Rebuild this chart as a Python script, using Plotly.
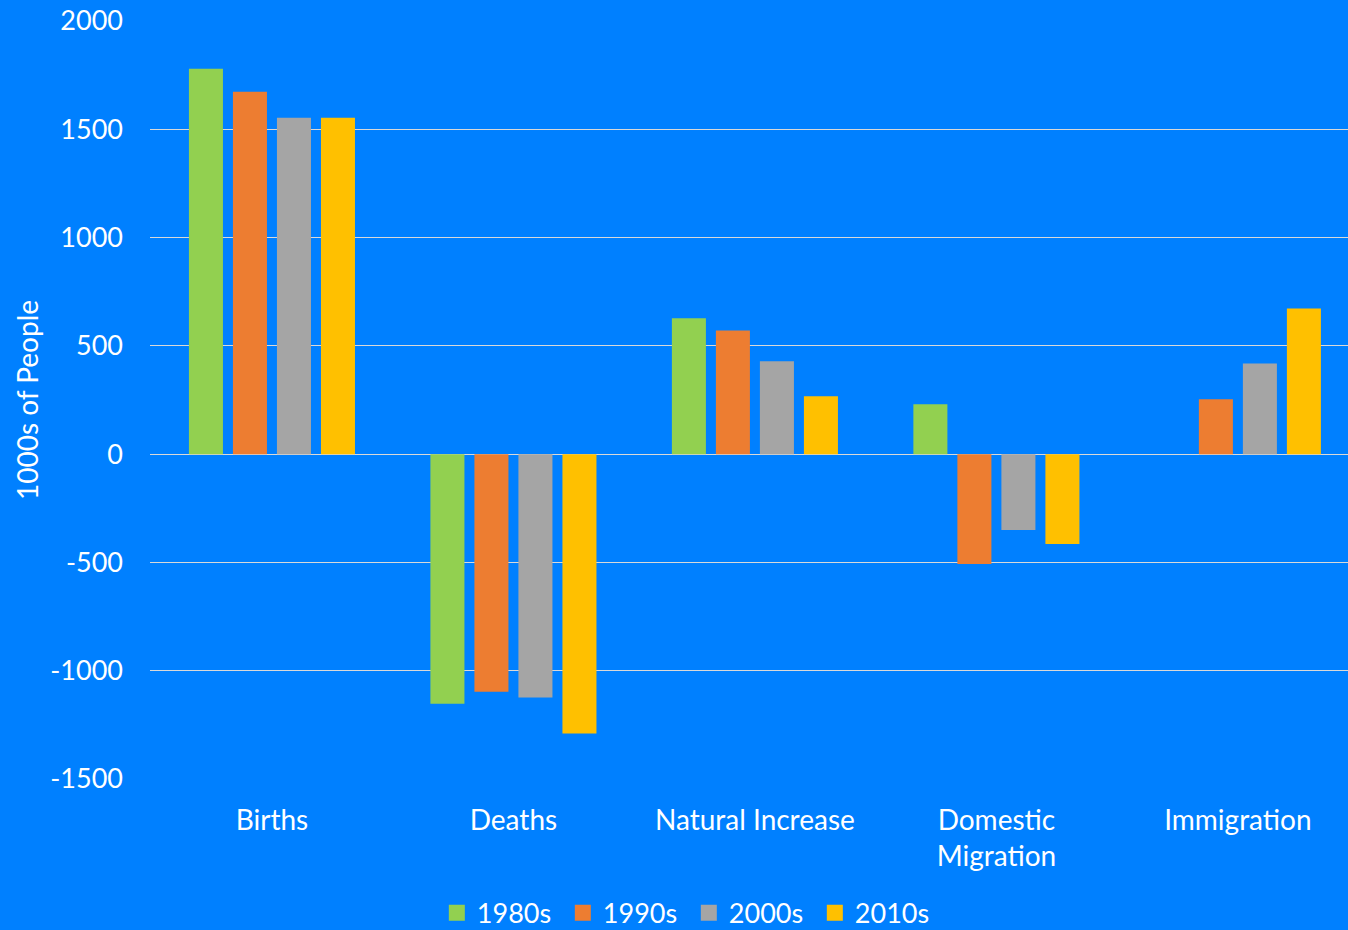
import plotly.graph_objects as go

categories = ["Births", "Deaths", "Natural Increase", "Domestic<br>Migration", "Immigration"]
series_names = ["1980s", "1990s", "2000s", "2010s"]
values_1980s = [1779, -1152, 627, 230, None]
values_1990s = [1673, -1097, 571, -507, 253]
values_2000s = [1553, -1124, 429, -350, 419]
values_2010s = [1553, -1290, 267, -415, 673]
colors = ["#92D050", "#ED7D31", "#A5A5A5", "#FFC000"]
y_ticks = [-1500, -1000, -500, 0, 500, 1000, 1500, 2000]
y_tick_labels = ["-1500", "-1000", "-500", "0", "500", "1000", "1500", "2000"]

bg = "#0080FF"
font = "Lato, Open Sans, sans-serif"

fig = go.Figure()
for name, vals, col in zip(series_names, [values_1980s, values_1990s, values_2000s, values_2010s], colors):
    fig.add_trace(go.Bar(x=categories, y=vals, name=name, marker_color=col,
                         marker_line_width=0, showlegend=False))
    # square legend swatch
    fig.add_trace(go.Scatter(x=[None], y=[None], mode="markers", name=name,
                             marker=dict(symbol="square", size=17, color=col)))

fig.update_layout(
    width=1348, height=930,
    paper_bgcolor=bg, plot_bgcolor=bg,
    font=dict(family=font, size=27, color="white"),
    margin=dict(l=150, r=0, t=21, b=151, autoexpand=False),
    barmode="group", bargap=0.271, bargroupgap=0.227,
    showlegend=True,
    legend=dict(orientation="h", xref="container", x=0.511, xanchor="center",
                yref="container", y=0.018, yanchor="middle",
                font=dict(size=27), itemwidth=30, traceorder="normal",
                entrywidth=81, entrywidthmode="pixels"),
)
fig.update_yaxes(range=[-1500, 2000], tickvals=y_ticks, ticktext=y_tick_labels,
                 showgrid=True, gridcolor="#D9D9D9", gridwidth=1,
                 zeroline=True, zerolinecolor="#D9D9D9", zerolinewidth=1,
                 title=dict(text="1000s of People", font=dict(size=28), standoff=3),
                 ticklabelstandoff=26)
fig.update_xaxes(range=[-0.505, 4.456], showgrid=False, showline=False,
                 ticklabelstandoff=22, tickangle=0, tickfont=dict(size=28))

fig.write_html("out.html", config={"displayModeBar": False},
               post_script="document.body.style.margin='0';")
